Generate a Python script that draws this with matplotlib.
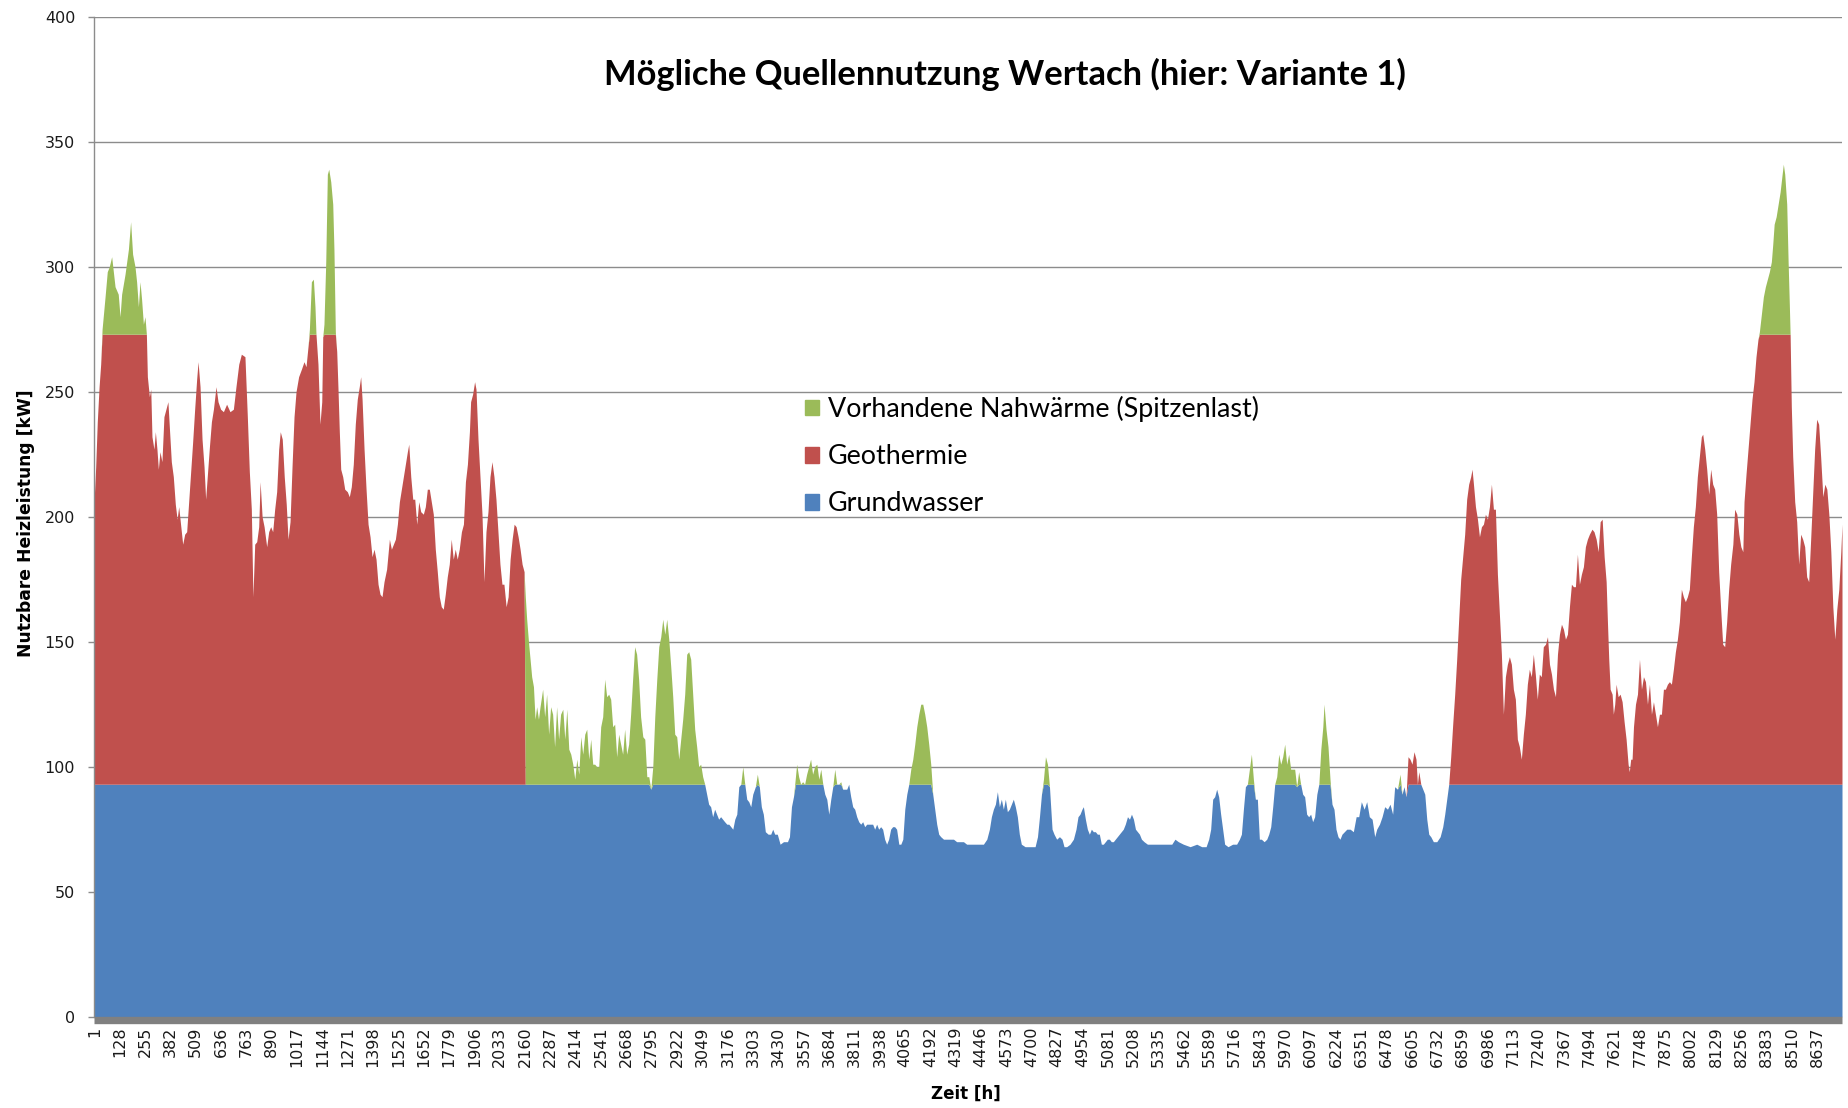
import matplotlib
matplotlib.use("Agg")
import matplotlib.pyplot as plt
from matplotlib.patches import Patch
import numpy as np

load_profile = [
    (1, 208), (8, 220), (16, 238), (25, 252), (33, 261), (40, 275), (55, 288), (66, 298), (76, 300), (88, 304),
    (105, 292), (121, 289), (130, 280), (138, 289), (155, 297), (172, 307), (183, 318), (193, 305), (205, 300), (213, 294),
    (222, 284), (230, 294), (238, 287), (247, 277), (255, 280), (262, 273), (267, 256), (277, 248), (284, 251), (290, 232),
    (300, 227), (307, 234), (315, 227), (322, 219), (330, 226), (340, 222), (350, 240), (360, 243), (370, 246), (377, 236),
    (387, 222), (397, 216), (407, 205), (416, 199), (424, 204), (432, 198), (444, 189), (454, 193), (464, 194), (474, 206),
    (484, 218), (494, 230), (504, 243), (514, 255), (521, 262), (531, 252), (541, 231), (551, 220), (559, 207), (568, 217),
    (578, 228), (588, 238), (598, 243), (611, 252), (621, 246), (634, 243), (648, 242), (664, 245), (681, 242), (698, 243),
    (711, 252), (725, 261), (738, 265), (756, 264), (768, 240), (778, 218), (788, 203), (796, 168), (805, 189), (815, 190),
    (825, 196), (832, 214), (842, 200), (852, 196), (865, 188), (875, 194), (885, 196), (895, 194), (905, 203), (915, 210),
    (925, 227), (933, 234), (943, 231), (953, 216), (963, 205), (972, 191), (982, 198), (992, 220), (1002, 240), (1012, 250),
    (1025, 256), (1039, 259), (1052, 262), (1062, 260), (1072, 268), (1079, 275), (1089, 294), (1099, 295), (1107, 284), (1112, 273),
    (1122, 261), (1132, 237), (1141, 246), (1146, 272), (1152, 277), (1161, 302), (1169, 337), (1176, 339), (1186, 334), (1196, 325),
    (1202, 307), (1209, 274), (1216, 266), (1222, 252), (1229, 234), (1236, 219), (1246, 216), (1256, 211), (1269, 210), (1279, 208),
    (1289, 212), (1299, 221), (1309, 237), (1319, 247), (1329, 252), (1336, 256), (1343, 247), (1353, 227), (1363, 211), (1373, 197),
    (1383, 192), (1393, 184), (1403, 187), (1413, 183), (1423, 173), (1433, 169), (1443, 168), (1453, 174), (1466, 179), (1480, 191),
    (1490, 187), (1500, 189), (1510, 191), (1520, 197), (1530, 206), (1540, 211), (1550, 216), (1560, 221), (1570, 226), (1577, 229),
    (1587, 216), (1597, 207), (1607, 207), (1617, 197), (1627, 206), (1637, 202), (1650, 201), (1660, 204), (1670, 211), (1680, 211),
    (1690, 206), (1700, 201), (1710, 187), (1720, 178), (1730, 168), (1740, 164), (1750, 163), (1760, 169), (1770, 176), (1780, 181),
    (1790, 191), (1800, 183), (1810, 187), (1820, 183), (1830, 187), (1841, 194), (1851, 197), (1861, 214), (1871, 221), (1881, 234),
    (1887, 246), (1897, 249), (1907, 254), (1914, 251), (1924, 231), (1934, 216), (1944, 201), (1954, 174), (1964, 194), (1974, 202),
    (1984, 216), (1994, 222), (2004, 216), (2014, 207), (2024, 194), (2034, 181), (2044, 173), (2054, 173), (2065, 164), (2075, 168),
    (2085, 183), (2095, 191), (2105, 197), (2115, 196), (2125, 192), (2135, 187), (2145, 181), (2155, 178), (2161, 168), (2168, 159),
    (2178, 149), (2185, 143), (2193, 136), (2202, 132), (2210, 119), (2218, 124), (2227, 119), (2235, 124), (2248, 131), (2258, 120),
    (2268, 129), (2278, 113), (2288, 124), (2298, 121), (2308, 108), (2318, 124), (2328, 111), (2338, 121), (2349, 123), (2359, 111),
    (2369, 123), (2379, 107), (2389, 105), (2399, 101), (2409, 95), (2419, 103), (2429, 97), (2439, 112), (2449, 105), (2459, 113),
    (2469, 115), (2479, 103), (2489, 111), (2499, 101), (2509, 101), (2519, 100), (2529, 100), (2539, 116), (2549, 120), (2559, 135),
    (2569, 128), (2579, 129), (2589, 127), (2599, 116), (2609, 117), (2619, 104), (2629, 113), (2639, 109), (2649, 105), (2659, 115),
    (2669, 105), (2679, 109), (2689, 121), (2699, 135), (2709, 148), (2719, 145), (2729, 135), (2739, 120), (2750, 112), (2760, 111),
    (2770, 96), (2780, 96), (2790, 91), (2800, 100), (2810, 120), (2820, 135), (2830, 148), (2840, 152), (2850, 159), (2860, 153),
    (2870, 159), (2880, 151), (2890, 140), (2900, 128), (2910, 113), (2920, 112), (2930, 103), (2940, 111), (2950, 119), (2960, 129),
    (2970, 145), (2980, 146), (2990, 143), (3000, 129), (3010, 115), (3020, 108), (3030, 100), (3040, 101), (3050, 96), (3060, 93),
    (3070, 89), (3080, 85), (3090, 84), (3100, 80), (3110, 83), (3120, 81), (3130, 79), (3140, 80), (3150, 79), (3160, 78),
    (3171, 77), (3181, 77), (3191, 76), (3201, 75), (3211, 79), (3221, 81), (3231, 92), (3241, 93), (3251, 100), (3261, 93),
    (3271, 87), (3281, 86), (3291, 84), (3301, 89), (3314, 92), (3324, 97), (3334, 92), (3344, 84), (3354, 81), (3364, 74),
    (3378, 73), (3391, 73), (3401, 75), (3411, 73), (3424, 73), (3438, 69), (3455, 70), (3475, 70), (3485, 72), (3495, 84),
    (3505, 88), (3515, 96), (3521, 101), (3531, 96), (3541, 93), (3551, 94), (3561, 93), (3571, 97), (3581, 100), (3591, 103),
    (3601, 97), (3611, 100), (3622, 101), (3632, 95), (3642, 99), (3652, 93), (3662, 89), (3672, 87), (3682, 81), (3692, 87),
    (3702, 92), (3712, 99), (3722, 93), (3732, 93), (3742, 94), (3752, 91), (3762, 91), (3772, 91), (3782, 93), (3792, 88),
    (3802, 84), (3812, 83), (3822, 80), (3832, 78), (3842, 77), (3852, 78), (3862, 76), (3872, 77), (3882, 77), (3892, 77),
    (3902, 77), (3912, 75), (3922, 77), (3932, 75), (3942, 76), (3952, 75), (3962, 71), (3972, 69), (3982, 71), (3992, 75),
    (4002, 76), (4012, 76), (4022, 75), (4033, 69), (4043, 69), (4053, 71), (4063, 83), (4073, 89), (4083, 93), (4093, 99),
    (4103, 103), (4113, 109), (4123, 116), (4133, 121), (4143, 125), (4153, 125), (4163, 121), (4173, 116), (4183, 109), (4193, 101),
    (4203, 89), (4213, 83), (4223, 77), (4233, 73), (4243, 72), (4257, 71), (4273, 71), (4290, 71), (4307, 71), (4323, 70),
    (4340, 70), (4357, 70), (4373, 69), (4390, 69), (4407, 69), (4423, 69), (4440, 69), (4457, 69), (4474, 71), (4487, 75),
    (4497, 80), (4507, 83), (4517, 85), (4527, 90), (4537, 84), (4547, 87), (4557, 83), (4567, 87), (4577, 82), (4587, 83),
    (4597, 85), (4607, 87), (4617, 84), (4627, 80), (4637, 73), (4647, 69), (4666, 68), (4691, 68), (4716, 68), (4728, 72),
    (4738, 80), (4748, 89), (4758, 95), (4768, 104), (4778, 101), (4788, 92), (4801, 75), (4811, 73), (4824, 71), (4838, 72),
    (4851, 71), (4861, 68), (4874, 68), (4891, 69), (4908, 71), (4921, 75), (4931, 80), (4941, 81), (4951, 83), (4958, 84),
    (4968, 79), (4978, 75), (4988, 73), (4998, 75), (5008, 74), (5018, 74), (5028, 73), (5038, 73), (5048, 69), (5058, 69),
    (5068, 70), (5078, 71), (5088, 71), (5098, 70), (5108, 70), (5118, 71), (5128, 72), (5138, 73), (5148, 74), (5158, 75),
    (5168, 77), (5179, 80), (5189, 79), (5199, 81), (5209, 79), (5219, 75), (5229, 74), (5239, 73), (5249, 71), (5262, 70),
    (5279, 69), (5300, 69), (5326, 69), (5351, 69), (5376, 69), (5401, 69), (5417, 71), (5434, 70), (5459, 69), (5493, 68),
    (5526, 69), (5551, 68), (5573, 68), (5586, 71), (5596, 75), (5606, 87), (5616, 88), (5626, 91), (5636, 88), (5646, 81),
    (5656, 75), (5666, 69), (5683, 68), (5706, 69), (5726, 69), (5740, 71), (5750, 73), (5760, 83), (5770, 92), (5780, 93),
    (5790, 99), (5800, 105), (5810, 95), (5820, 87), (5830, 87), (5840, 71), (5850, 71), (5864, 70), (5877, 71), (5887, 73),
    (5897, 76), (5907, 84), (5917, 93), (5927, 96), (5937, 105), (5947, 101), (5957, 104), (5967, 109), (5977, 101), (5987, 105),
    (5997, 99), (6007, 99), (6017, 99), (6027, 92), (6037, 98), (6047, 93), (6057, 89), (6067, 88), (6077, 81), (6087, 80),
    (6097, 81), (6107, 78), (6117, 80), (6128, 89), (6138, 93), (6148, 107), (6158, 116), (6164, 125), (6174, 115), (6184, 108),
    (6194, 95), (6204, 85), (6214, 83), (6224, 75), (6234, 72), (6244, 71), (6254, 73), (6278, 75), (6295, 75), (6311, 74),
    (6325, 80), (6338, 80), (6351, 86), (6365, 83), (6378, 86), (6391, 80), (6405, 79), (6418, 72), (6428, 75), (6442, 77),
    (6455, 80), (6468, 84), (6482, 83), (6495, 85), (6508, 81), (6518, 92), (6532, 91), (6545, 97), (6555, 89), (6565, 92),
    (6575, 88), (6585, 104), (6595, 103), (6605, 101), (6615, 106), (6625, 103), (6632, 93), (6639, 98), (6649, 93), (6659, 91),
    (6669, 89), (6679, 79), (6689, 73), (6699, 72), (6712, 70), (6729, 70), (6746, 72), (6759, 76), (6769, 81), (6779, 87),
    (6789, 93), (6799, 104), (6809, 117), (6819, 129), (6829, 143), (6839, 159), (6849, 175), (6859, 184), (6869, 193), (6879, 207),
    (6889, 213), (6899, 216), (6906, 219), (6913, 213), (6923, 204), (6933, 199), (6943, 192), (6953, 196), (6963, 197), (6973, 201),
    (6983, 199), (6993, 204), (7003, 213), (7013, 203), (7023, 203), (7033, 177), (7043, 161), (7053, 145), (7063, 121), (7073, 136),
    (7083, 141), (7093, 144), (7103, 141), (7113, 131), (7123, 127), (7133, 111), (7143, 108), (7153, 103), (7163, 113), (7173, 121),
    (7183, 133), (7193, 139), (7203, 136), (7213, 145), (7223, 137), (7233, 127), (7243, 137), (7253, 136), (7263, 148), (7274, 149),
    (7284, 152), (7294, 141), (7304, 137), (7314, 131), (7324, 128), (7334, 145), (7344, 153), (7354, 157), (7364, 155), (7374, 151),
    (7384, 153), (7394, 164), (7404, 173), (7414, 172), (7424, 172), (7434, 185), (7444, 173), (7454, 177), (7464, 180), (7474, 188),
    (7484, 191), (7494, 193), (7507, 195), (7517, 194), (7528, 191), (7538, 186), (7548, 198), (7558, 199), (7568, 184), (7578, 174),
    (7584, 159), (7591, 143), (7598, 131), (7608, 129), (7614, 121), (7621, 125), (7628, 133), (7638, 128), (7648, 129), (7658, 126),
    (7668, 118), (7678, 111), (7688, 101), (7694, 98), (7701, 103), (7708, 103), (7715, 116), (7725, 125), (7735, 129), (7745, 143),
    (7755, 131), (7765, 136), (7775, 134), (7785, 125), (7795, 133), (7805, 121), (7815, 126), (7825, 121), (7835, 116), (7845, 121),
    (7855, 121), (7865, 131), (7875, 131), (7885, 133), (7895, 134), (7905, 133), (7915, 139), (7925, 146), (7935, 151), (7945, 158),
    (7955, 171), (7965, 168), (7975, 166), (7985, 168), (7995, 171), (8005, 184), (8015, 196), (8025, 204), (8035, 216), (8045, 224),
    (8055, 232), (8062, 233), (8072, 227), (8082, 219), (8092, 209), (8102, 219), (8112, 213), (8122, 211), (8132, 201), (8142, 178),
    (8152, 163), (8162, 149), (8172, 148), (8182, 158), (8192, 171), (8202, 181), (8213, 189), (8222, 203), (8233, 201), (8243, 193),
    (8253, 188), (8263, 186), (8269, 206), (8279, 217), (8289, 227), (8299, 237), (8309, 247), (8319, 254), (8329, 264), (8339, 271),
    (8346, 274), (8356, 281), (8366, 288), (8376, 292), (8386, 295), (8396, 298), (8406, 302), (8413, 309), (8420, 317), (8430, 320),
    (8440, 325), (8450, 330), (8460, 337), (8466, 341), (8473, 337), (8483, 325), (8490, 302), (8496, 285), (8500, 273), (8506, 244),
    (8513, 224), (8523, 206), (8533, 198), (8543, 181), (8553, 193), (8563, 191), (8573, 188), (8583, 176), (8593, 174), (8603, 191),
    (8613, 209), (8623, 227), (8633, 239), (8643, 237), (8653, 224), (8664, 208), (8674, 213), (8684, 211), (8694, 201), (8704, 186),
    (8714, 164), (8724, 151), (8734, 163), (8744, 171), (8754, 186), (8760, 197),
]

# Leistungsgrenzen der Quellen [kW]
grundwasser_max = 93
geothermie_max = 180
# Zeiträume (Stunden), in denen Geothermie genutzt wird
geothermie_periods = [(1, 2156), (6580, 6645), (6795, 8760)]

labels = ['Vorhandene Nahwärme (Spitzenlast)', 'Geothermie', 'Grundwasser']
colors = {'Grundwasser': '#4F81BD', 'Geothermie': '#C0504D', 'Nahwärme': '#9BBB59'}
xtick_hours = list(range(1, 8761, 127))
yticks = list(range(0, 401, 50))

hours = np.array([p[0] for p in load_profile], dtype=float)
total = np.array([p[1] for p in load_profile], dtype=float)

geo_on = np.zeros(len(hours), dtype=bool)
for a, b in geothermie_periods:
    geo_on |= (hours >= a) & (hours <= b)

grundwasser = np.minimum(total, grundwasser_max)
geothermie = np.where(geo_on, np.clip(total - grundwasser_max, 0, geothermie_max), 0)
nahwaerme = total - grundwasser - geothermie

W, H = 1848, 1108
fig = plt.figure(figsize=(W / 100, H / 100), dpi=100)
x0, x1, y0, y1 = 94.3, 1842, 16.7, 1016.7
ax = fig.add_axes([x0 / W, 1 - y1 / H, (x1 - x0) / W, (y1 - y0) / H])

ax.fill_between(hours, 0, grundwasser, color=colors['Grundwasser'], lw=0)
ax.fill_between(hours, grundwasser, grundwasser + geothermie, color=colors['Geothermie'], lw=0)
ax.fill_between(hours, grundwasser + geothermie, total, color=colors['Nahwärme'], lw=0)

ax.set_xlim(1, 8760)
ax.set_ylim(0, 400)
ax.set_yticks(yticks)
ax.set_xticks(xtick_hours)
ax.set_xticklabels([str(h) for h in xtick_hours])
ax.tick_params(axis='x', length=0, pad=4.5, labelsize=11.5, labelrotation=90, labelcolor='#1a1a1a')
ax.tick_params(axis='y', length=4.3, width=1, color='#8c8c8c', pad=9.5, labelsize=11.5, labelcolor='#1a1a1a')
ax.set_axisbelow(True)
ax.grid(axis='y', color='#8c8c8c', lw=1.0)

for s in ['top', 'right']:
    ax.spines[s].set_visible(False)
ax.spines['left'].set_color('#8c8c8c')
ax.spines['left'].set_linewidth(1.0)
ax.spines['bottom'].set_color('#808080')
ax.spines['bottom'].set_linewidth(5.3)
ax.spines['bottom'].set_position(('outward', 2.65))
ax.spines['bottom'].set_capstyle('butt')

fig.text(1005 / W, 1 - 74 / H, 'Mögliche Quellennutzung Wertach (hier: Variante 1)',
         ha='center', va='center', fontsize=24.8, fontweight='bold', family='Lato')
ax.text(-0.039, 0.494, 'Nutzbare Heizleistung [kW]', transform=ax.transAxes, rotation=90,
        ha='center', va='center', fontsize=12.3, fontweight='bold')
ax.text(0.4988, -0.0773, 'Zeit [h]', transform=ax.transAxes,
        ha='center', va='center', fontsize=12, fontweight='bold')

handles = [Patch(color=colors['Nahwärme']), Patch(color=colors['Geothermie']),
           Patch(color=colors['Grundwasser'])]
leg = ax.legend(handles, labels, loc='upper left', bbox_to_anchor=(805 / W, 1 - 396 / H),
                bbox_transform=fig.transFigure, frameon=False, borderpad=0, borderaxespad=0,
                handlelength=0.52, handleheight=0.52, handletextpad=0.33, labelspacing=0.82,
                prop={'family': 'Lato', 'size': 19.4})

fig.savefig('out.png', dpi=100)
